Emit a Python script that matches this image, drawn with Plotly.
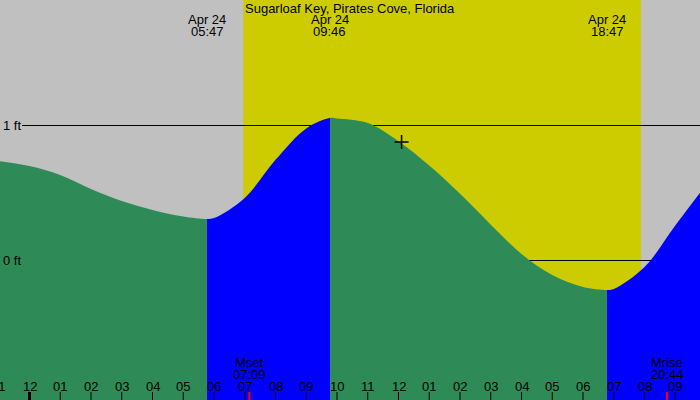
import plotly.graph_objects as go

# ---------------- data ----------------
TITLE = "Sugarloaf Key, Pirates Cove, Florida"
DATE_LABEL = "Apr 24"

# tide curve (hours from Apr 24 00:00, height in ft)
tide_hours = [-1.0, 0.0, 1.0, 2.0, 3.0, 4.0, 5.0, 5.783, 6.0, 7.0, 8.0, 9.0, 9.767,
              10.0, 11.0, 12.0, 13.0, 14.0, 15.0, 16.0, 17.0, 18.0, 18.783,
              19.0, 20.0, 21.0, 22.0]
tide_ft = [0.733, 0.696, 0.630, 0.526, 0.437, 0.370, 0.322, 0.304, 0.311, 0.460, 0.742, 0.975, 1.052,
           1.048, 1.015, 0.880, 0.700, 0.490, 0.262, 0.045, -0.111, -0.200, -0.222,
           -0.215, -0.052, 0.255, 0.556]

# tide extremes (labels at top)
extreme_times = ["05:47", "09:46", "18:47"]

# sun and moon
sunrise = "06:57"
sunset = "19:53"
moon_events = [("Mset", "07:09"), ("Mrise", "20:44")]
now_time = "12:06"
now_ft = 0.874

# hour ticks
tick_hours = list(range(-1, 22))
tick_labels = ["11", "12", "01", "02", "03", "04", "05", "06", "07", "08", "09", "10",
               "11", "12", "01", "02", "03", "04", "05", "06", "07", "08", "09"]

level_ft = [1, 0]
level_labels = ["1 ft", "0 ft"]

# --------------- styling ---------------
GREY = "#C0C0C0"
YELLOW = "#CCCC00"
GREEN = "#2E8B57"
BLUE = "#0000FF"
FONT = "Liberation Sans"
FS = 13

W, H = 700, 400
PX_PER_HOUR = 30.75
X0_PX = 29.5
XMIN = -X0_PX / PX_PER_HOUR
XMAX = (W - X0_PX) / PX_PER_HOUR
PX_PER_FT = 135.0
Y0_PX = 260.0
YMAX = Y0_PX / PX_PER_FT
YMIN = -(H - Y0_PX) / PX_PER_FT


def hm(s):
    h, m = s.split(":")
    return int(h) + int(m) / 60.0


def paper_y(py):
    return 1 - py / H


def paper_x(hour):
    return (X0_PX + hour * PX_PER_HOUR) / W


def txt(x, y, text, xref="paper", xanchor="center"):
    return dict(x=x, y=y, xref=xref, yref="paper", text=text, showarrow=False,
                xanchor=xanchor, yanchor="middle", font=dict(family=FONT, size=FS, color="black"))


fig = go.Figure()

# baseline for filling to the bottom
g_start, g_stop = tide_hours[0], tide_hours[-1]
fig.add_trace(go.Scatter(x=[g_start, g_stop], y=[YMIN - 0.3, YMIN - 0.3], mode="lines",
                         line=dict(width=0, color=GREEN), hoverinfo="skip", showlegend=False))

# colour changes at extremes: falling = green, rising = blue
ext = [hm(t) for t in extreme_times]
pos = [(e - g_start) / (g_stop - g_start) for e in ext]
cs = [[0, GREEN], [pos[0], GREEN], [pos[0], BLUE], [pos[1], BLUE],
      [pos[1], GREEN], [pos[2], GREEN], [pos[2], BLUE], [1, BLUE]]

fig.add_trace(go.Scatter(
    x=tide_hours, y=tide_ft, mode="lines", line=dict(width=0, shape="spline", smoothing=1.0, color=GREEN),
    fill="tonexty", fillcolor=GREEN,
    fillgradient=dict(type="horizontal", colorscale=cs, start=g_start, stop=g_stop),
    hoverinfo="skip", showlegend=False))

# now marker
fig.add_trace(go.Scatter(x=[hm(now_time)], y=[now_ft], mode="markers",
                         marker=dict(symbol="cross-thin", size=10, line=dict(width=1.5, color="black")),
                         hoverinfo="skip", showlegend=False))

shapes = []
# daylight
shapes.append(dict(type="rect", xref="x", yref="paper", x0=hm(sunrise), x1=hm(sunset), y0=0, y1=1,
                   fillcolor=YELLOW, line=dict(width=0), layer="below"))
# level lines (below fill), nudged half a pixel for a crisp 1px line
half_px = 0.5 / PX_PER_FT
for v in level_ft:
    shapes.append(dict(type="line", xref="paper", yref="y", x0=22 / W, x1=1, y0=v - half_px, y1=v - half_px,
                       line=dict(color="black", width=1), layer="below"))

annotations = []
for v, lab in zip(level_ft, level_labels):
    annotations.append(dict(x=1 / W, y=v, xref="paper", yref="y", text=lab, showarrow=False,
                            xanchor="left", yanchor="middle", font=dict(family=FONT, size=FS, color="black")))

# hour ticks
for hh, lab in zip(tick_hours, tick_labels):
    shapes.append(dict(type="line", xref="x", yref="paper", x0=hh, x1=hh, y0=0, y1=paper_y(392),
                       line=dict(color="black", width=3 if hh == 0 else 1), layer="above"))
    annotations.append(txt(paper_x(hh), paper_y(386), lab))

# moon events
for name, t in moon_events:
    shapes.append(dict(type="line", xref="x", yref="paper", x0=hm(t), x1=hm(t), y0=0, y1=paper_y(392),
                       line=dict(color="red", width=2), layer="above"))
    annotations.append(txt(paper_x(hm(t)), paper_y(362), name))
    annotations.append(txt(paper_x(hm(t)), paper_y(374), t))

# top labels
annotations.append(txt(0.5, paper_y(8), TITLE))
for t in extreme_times:
    annotations.append(txt(paper_x(hm(t)), paper_y(19.5), DATE_LABEL))
    annotations.append(txt(paper_x(hm(t)), paper_y(31.5), t))

fig.update_layout(
    width=W, height=H, margin=dict(l=0, r=0, t=0, b=0),
    paper_bgcolor=GREY, plot_bgcolor=GREY,
    xaxis=dict(range=[XMIN, XMAX], visible=False, fixedrange=True),
    yaxis=dict(range=[YMIN, YMAX], visible=False, fixedrange=True),
    shapes=shapes, annotations=annotations, showlegend=False,
)

fig.write_html("out.html")
